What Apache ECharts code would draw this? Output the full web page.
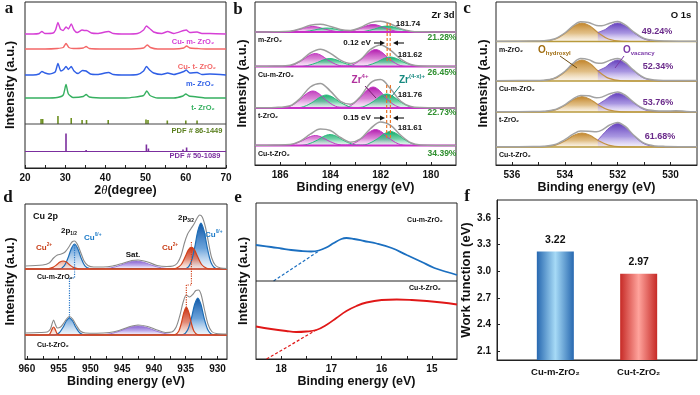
<!DOCTYPE html>
<html><head><meta charset="utf-8">
<script src="https://cdn.jsdelivr.net/npm/echarts@6/dist/echarts.min.js"></script>
<style>html,body{margin:0;padding:0;background:#fff}#c{width:700px;height:395px}</style>
</head><body><div id="c"></div>
<script>
// ===== Panel a: XRD (2θ, intensity a.u. incl. stacking offset) =====
const xrdCuM = [[20,134],[22,134],[23.5,134.5],[24.2,136.5],[25,134.5],[27,135],[27.6,138],[28.2,145.5],[28.8,139],[29.5,137.5],[30.2,141],[30.8,139],[31.5,144],[32.2,138],[33,135.5],[34.2,138],[34.8,137.5],[35.4,137.5],[36.5,135],[38,134.5],[40.8,136.5],[42,134.5],[45,134],[48,134.5],[49.5,138],[50.2,142],[51,139.5],[52,136],[54,134.5],[55.5,136.5],[57,134.5],[59.5,137.5],[60.1,138],[61,135.5],[62.8,136],[64,134.5],[66,134.5],[70,134]];
const xrdCuT = [[20,119],[25,119],[28,119.5],[29.5,120.5],[30.2,124.5],[30.9,120.5],[32,119.5],[34.5,120],[35.2,121.5],[36,119.5],[40,119],[45,119],[49.5,120],[50.4,123],[51.2,120.5],[53,119],[57,119],[59.5,120],[60.2,122],[61,120],[62.8,119.5],[65,119],[70,119]];
const xrdM = [[20,93],[22,93],[23.5,94],[24.2,96.5],[25,95],[26,94],[27.5,96],[28.2,104.5],[28.9,97],[29.6,98.5],[30.2,101.5],[30.8,98.5],[31.5,101.5],[32.2,97],[33.2,94.5],[34.3,97.5],[35.2,97],[36.3,94],[38,93.5],[40.8,95.5],[42,93.5],[45,93],[48,93.5],[49.5,97],[50.2,101.5],[51,98],[52,95],[54,93.5],[55.5,95],[57,93.5],[59.5,96.5],[60.1,98],[61,95],[62.8,95.5],[64,93.5],[66,94],[70,93]];
const xrdT = [[20,70],[25,70],[28,70.5],[29.5,73],[30.2,83.5],[30.8,74],[32,70.5],[34.5,71.5],[35.2,73.5],[36,71],[40,70],[45,70],[49.5,72.5],[50.3,77],[51.1,72.5],[53,70],[57,70],[59.3,72],[60,74],[60.8,72],[62.8,71],[65,70],[70,70]];
const pdfMono = [[24.0,5],[24.4,5],[28.2,8],[31.5,6],[34.2,4],[35.3,4],[40.7,4],[50.1,4.5],[50.6,4],[55.4,3.5],[60.0,3.5],[62.8,3.5]];
const pdfTetra = [[30.2,18],[35.2,1.5],[50.2,7],[50.7,3],[59.3,2],[60.2,4]];
const pdfBase = [44, 16.5];
const ticksA = [20,25,30,35,40,45,50,55,60,65,70];
const labelsA = [20,30,40,50,60,70];

// ===== Panel b: Zr 3d (eV, height above each baseline) =====
const zrBase = [133, 98.5, 57, 19.5];
const zrPink1 = [[187,0],[186,0],[185.6,0.58],[185.2,2.75],[184.95,4.62],[184.7,5.5],[184.45,4.62],[184.2,2.75],[183.8,0.58],[183.5,0.2],[183.2,0.8],[182.8,3.75],[182.55,6.3],[182.3,7.5],[182.05,6.3],[181.8,3.75],[181.4,0.8],[181,0],[179,0]];
const zrGreen1 = [[187,0],[185.44,0],[185.04,0.42],[184.64,2],[184.39,3.36],[184.14,4],[183.89,3.36],[183.64,2],[183.24,0.42],[182.94,0.2],[182.64,0.64],[182.24,3],[181.99,5.04],[181.74,6],[181.49,5.04],[181.24,3],[180.84,0.64],[180.44,0],[179,0]];
const zrPink2 = [[187,0],[185.9,0],[185.5,1.38],[185.1,6.5],[184.85,10.92],[184.6,13],[184.35,10.92],[184.1,6.5],[183.7,1.38],[183.4,0.6],[183.1,1.8],[182.7,8.5],[182.45,14.28],[182.2,17],[181.95,14.28],[181.7,8.5],[181.3,1.8],[180.9,0],[179,0]];
const zrGreen2 = [[187,0],[185.32,0],[184.92,0.85],[184.52,4],[184.27,6.72],[184.02,8],[183.77,6.72],[183.52,4],[183.12,0.85],[182.82,0.35],[182.52,1.0],[182.12,4.75],[181.87,7.98],[181.62,9.5],[181.37,7.98],[181.12,4.75],[180.72,1.0],[180.32,0],[179,0]];
const zrPink3 = [[187,0],[186,0],[185.6,1.8],[185.2,8.5],[184.95,14.28],[184.7,17],[184.45,14.28],[184.2,8.5],[183.8,1.8],[183.5,0.8],[183.2,2.23],[182.8,10.5],[182.55,17.64],[182.3,21],[182.05,17.64],[181.8,10.5],[181.4,2.23],[181,0],[179,0]];
const zrGreen3 = [[187,0],[185.46,0],[185.06,1.38],[184.66,6.5],[184.41,10.92],[184.16,13],[183.91,10.92],[183.66,6.5],[183.26,1.38],[182.96,0.55],[182.66,1.48],[182.26,7],[182.01,11.76],[181.76,14],[181.51,11.76],[181.26,7],[180.86,1.48],[180.46,0],[179,0]];
const zrPink4 = [[187,0],[185.9,0],[185.5,1.06],[185.1,5],[184.85,8.4],[184.6,10],[184.35,8.4],[184.1,5],[183.7,1.06],[183.4,0.5],[183.1,1.7],[182.7,8],[182.45,13.44],[182.2,16],[181.95,13.44],[181.7,8],[181.3,1.7],[180.9,0],[179,0]];
const zrGreen4 = [[187,0],[185.31,0],[184.91,1.17],[184.51,5.5],[184.26,9.24],[184.01,11],[183.76,9.24],[183.51,5.5],[183.11,1.17],[182.81,0.5],[182.51,1.48],[182.11,7],[181.86,11.76],[181.61,14],[181.36,11.76],[181.11,7],[180.71,1.48],[180.31,0],[179,0]];
const zrEnv1 = [[187,0],[186.2,0.2],[185.6,0.8],[185.2,3.2],[184.8,6.8],[184.4,7.8],[184.0,5.6],[183.6,2.5],[183.2,1.6],[182.8,4.5],[182.4,9.4],[182.0,10.8],[181.6,8],[181.2,3.4],[180.8,0.8],[180.4,0.2],[179,0]];
const zrEnv2 = [[187,0.3],[186.2,0.5],[185.6,1.3],[185.2,5.5],[184.8,13.5],[184.4,17.2],[184.0,13.2],[183.6,6.3],[183.2,3],[182.8,7],[182.4,17.2],[182.0,21.6],[181.6,16.2],[181.2,7.3],[180.8,2],[180.4,0.5],[179,0.1]];
const zrEnv3 = [[187,0.3],[186.2,0.6],[185.6,2.3],[185.2,9.7],[184.8,21],[184.4,24.6],[184.0,16.9],[183.6,6.6],[183.2,3.7],[182.8,11.6],[182.4,25.2],[182.0,28.4],[181.6,18.9],[181.2,6.8],[180.8,1.5],[180.4,0.4],[179,0.1]];
const zrEnv4 = [[187,0.3],[186.2,0.5],[185.6,1.1],[185.2,4.3],[184.8,11.3],[184.4,16.5],[184.0,15],[183.6,8],[183.2,3.3],[182.8,6.6],[182.4,17],[182.0,23.6],[181.6,20.1],[181.2,10.2],[180.8,2.7],[180.4,0.6],[179,0.1]];
const zrShift1 = [181.74, 181.62];
const zrShift2 = [181.76, 181.61];
const ticksB = [180,181,182,183,184,185,186];
const labelsB = [180,182,184,186];

// ===== Panel c: O 1s =====
const oBase = [123.5, 84, 53, 18];
const oGold1 = [[536.6,0],[534.85,0.2],[534.35,2.5],[533.95,9],[533.65,15.4],[533.35,18.5],[533.05,15.4],[532.75,9],[532.35,2.5],[531.85,0.2],[531,0],[529,0]];
const oGold2 = [[536.6,0],[534.85,0.23],[534.35,2.84],[533.95,10.2],[533.65,17.5],[533.35,21],[533.05,17.5],[532.75,10.2],[532.35,2.84],[531.85,0.23],[531,0],[529,0]];
const oGold3 = [[536.6,0],[534.85,0.17],[534.35,2.07],[533.95,7.45],[533.65,12.8],[533.35,15.3],[533.05,12.8],[532.75,7.45],[532.35,2.07],[531.85,0.17],[531,0],[529,0]];
const oGold4 = [[536.6,0],[534.85,0.15],[534.35,1.9],[533.95,6.8],[533.65,11.7],[533.35,14],[533.05,11.7],[532.75,6.8],[532.35,1.9],[531.85,0.15],[531,0],[529,0]];
const oVac1 = [[532.75,9],[532.45,12.3],[532.3,15.4],[532,18.5],[531.7,15.4],[531.4,9],[531,2.5],[530.5,0.2],[530,0],[529,0]];
const oVac2 = [[532.75,10.2],[532.45,14],[532.3,17.5],[532,21],[531.7,17.5],[531.4,10.2],[531,2.84],[530.5,0.23],[530,0],[529,0]];
const oVac3 = [[532.75,7.45],[532.45,12.5],[532.3,15.6],[532,18.7],[531.7,15.6],[531.4,9.1],[531,2.5],[530.5,0.2],[530,0],[529,0]];
const oVac4 = [[532.75,6.8],[532.45,15.7],[532.3,19.6],[532,23.5],[531.7,19.6],[531.4,11.4],[531,3.2],[530.5,0.26],[530,0],[529,0]];
const oEnv1 = [[536.6,0.3],[535.2,0.4],[534.8,0.7],[534.4,2.5],[534,8.5],[533.7,15.3],[533.4,19.8],[533.1,19],[532.8,16],[532.6,15.8],[532.3,18.3],[532,20],[531.7,16.3],[531.4,9.7],[531,3],[530.6,1],[530.2,0.5],[529,0.3]];
const oEnv2 = [[536.6,0.3],[535.2,0.5],[534.8,0.8],[534.4,2.8],[534,9.5],[533.7,17.3],[533.4,22.4],[533.1,21.4],[532.8,18],[532.6,17.8],[532.3,20.6],[532,22.5],[531.7,18.3],[531.4,10.8],[531,3.3],[530.6,1],[530.2,0.6],[529,0.4]];
const oEnv3 = [[536.6,0.3],[535.2,0.4],[534.8,0.7],[534.4,2.2],[534,7.2],[533.7,12.8],[533.4,16.6],[533.1,16.2],[532.8,14.3],[532.6,14.9],[532.3,18.2],[532,20],[531.7,16.5],[531.4,9.8],[531,3.2],[530.6,1.2],[530.2,0.9],[529.8,1.2],[529.4,0.6],[529,0.3]];
const oEnv4 = [[536.6,0.3],[535.2,0.4],[534.8,0.7],[534.4,2.3],[534,7.3],[533.7,12.6],[533.4,16],[533.1,15.8],[532.8,15.3],[532.6,16.9],[532.3,22],[532,24.6],[531.7,20.3],[531.4,12],[531,3.8],[530.6,1.1],[530.2,0.6],[529,0.3]];
const ticksC = [530,531,532,533,534,535,536];
const labelsC = [530,532,534,536];

// ===== Panel d: Cu 2p =====
const cuBase = [90, 24];
const cuBlueM = [[960.3,0],[954.9,0],[954.1,3.4],[953.5,11.5],[953.0,20.6],[952.5,25],[952.0,20.6],[951.5,11.5],[950.9,3.4],[950.1,0.3],[935.0,0.5],[934.2,6.2],[933.6,21.1],[933.1,37.9],[932.6,46],[932.1,37.9],[931.6,21.1],[931.0,6.2],[930.2,0.5],[928.5,0]];
const cuRedM = [[960.3,0],[957.5,0],[956.7,0.2],[955.9,1.6],[955.3,4.3],[954.8,6.9],[954.3,8],[953.8,6.9],[953.3,4.3],[952.7,1.6],[951.9,0.2],[951,0],[937.3,0],[936.5,0.6],[935.7,4.5],[935.1,11.9],[934.6,18.9],[934.1,22],[933.6,18.9],[933.1,11.9],[932.5,4.5],[931.7,0.6],[930.9,0],[928.5,0]];
const cuSatM = [[960.3,0],[948.8,0.1],[946.8,1.1],[945.3,3.7],[944.05,6.6],[942.8,8],[941.55,6.6],[940.3,3.7],[938.8,1.1],[936.8,0.1],[928.5,0]];
const cuEnvM = [[960.3,3],[957.5,4],[956.5,6],[955.8,11],[955.2,14],[954.6,15],[954.0,17],[953.4,22],[952.9,27],[952.5,28],[952.0,24],[951.5,16],[951.0,8],[950.4,3.5],[949.5,2],[948,2],[946.5,3],[945,5.5],[943.5,8.5],[942.5,9],[941,7],[939.5,3.5],[938,2.5],[937,3],[936.3,6],[935.7,14],[935.2,26],[934.7,35],[934.2,40],[933.6,46],[933.1,52],[932.8,54],[932.4,52],[931.9,42],[931.4,26],[930.9,11],[930.3,3.5],[929.5,1],[928.5,0.5]];
const cuBlueT = [[960.3,0],[955.7,0],[954.9,2.3],[954.3,7.8],[953.8,14],[953.3,17],[952.8,14],[952.3,7.8],[951.7,2.3],[950.9,0.2],[935.5,0.4],[934.7,5],[934.1,16.9],[933.6,30.5],[933.1,37],[932.6,30.5],[932.1,16.9],[931.5,5],[930.7,0.4],[928.5,0]];
const cuRedT = [[960.3,0],[956.7,0],[956.4,1.1],[956.2,3.3],[956.0,6.4],[955.8,8],[955.6,6.4],[955.4,3.3],[955.2,1.1],[954.9,0],[937.2,0],[936.7,0.3],[936.1,3.8],[935.7,11.5],[935.3,22.4],[934.9,28],[934.5,22.4],[934.1,11.5],[933.7,3.8],[933.1,0.3],[932.5,0],[928.5,0]];
const cuSatT = [[960.3,0],[949,0.1],[946.9,1.2],[945.3,4.1],[943.9,7.4],[942.5,9],[941.1,7.4],[939.7,4.1],[938.1,1.2],[936,0.1],[928.5,0]];
const cuEnvT = [[960.3,2],[958,2.5],[956.8,3],[956.3,6],[956.0,12],[955.8,15],[955.55,11],[955.2,7],[954.7,8],[954.2,12],[953.7,16.5],[953.3,18.5],[952.8,16],[952.2,9.5],[951.6,4],[950.8,2],[949,1.8],[947,2.5],[945.5,4.5],[944,8],[942.5,10],[941,8.5],[939.5,5],[938.2,2.5],[937.2,3],[936.5,8],[935.9,20],[935.4,33],[934.9,40],[934.4,38],[933.9,40.5],[933.4,44.5],[933.0,45],[932.6,41],[932.1,27],[931.5,11],[930.9,3.5],[930.2,1.5],[928.5,1]];
const cuShiftBlue = [[952.5,114],[952.5,81],[953.3,81],[953.3,41]];
const cuShiftRed = [[934.1,117],[934.1,74],[934.9,74],[934.9,52]];
const ticksD = [930,932.5,935,937.5,940,942.5,945,947.5,950,952.5,955,957.5,960];
const labelsD = [930,935,940,945,950,955,960];

// ===== Panel e: valence band edge =====
const vbCuM = [[18.5,114],[18.2,112],[18.0,110.5],[17.8,109],[17.6,108],[17.4,107.5],[17.25,108.5],[17.1,111.5],[16.95,116],[16.8,120],[16.7,121],[16.55,120],[16.35,118],[16.1,115.5],[15.8,111],[15.5,104],[15.2,97],[14.95,91],[14.7,87],[14.5,84]];
const vbCuT = [[18.5,32.5],[18.2,30],[17.9,28],[17.7,27],[17.5,27.5],[17.3,29],[17.1,34],[16.9,41],[16.7,48],[16.5,53],[16.3,56.5],[16.0,59],[15.7,59.5],[15.4,59],[15.1,58],[14.8,56.5],[14.5,54.5]];
const vbTanM = [[18.15,78],[17.25,108]];
const vbTanT = [[18.29,0],[17.3,29]];
const vbDivider = 78;
const ticksE = [15,15.5,16,16.5,17,17.5,18];
const labelsE = [15,16,17,18];

// ===== Panel f: work function =====
const wfCats = ['Cu-m-ZrO\u2082', 'Cu-t-ZrO\u2082'];
const wfVals = [3.22, 2.97];
const ticksF = [2.1, 2.4, 2.7, 3.0, 3.3, 3.6];

// ================= build =================
const FONT = '"Liberation Sans", Arial, sans-serif';
const chart = echarts.init(document.getElementById('c'), null, {renderer:'canvas', width:700, height:395});

const grids = [
  {left:25, top:2, width:201, height:166},
  {left:255, top:2, width:201, height:163},
  {left:496, top:2, width:201, height:163},
  {left:25, top:204, width:202, height:155},
  {left:256, top:203, width:201, height:156},
  {left:497, top:200, width:200, height:160}
].map(g => Object.assign({show:true, borderColor:'#222', borderWidth:1, backgroundColor:'rgba(0,0,0,0)', containLabel:false}, g));

const axNameStyle = {fontSize:12.5, fontWeight:'bold', color:'#111', fontFamily:FONT};
function xAx(gi, min, max, inverse, ticks, labels, name, nameGap, fmt){
  return {type:'value', gridIndex:gi, min, max, inverse,
    axisLine:{show:true, onZero:false, lineStyle:{color:'#222', width:1}},
    axisTick:{show:true, inside:true, length:3, customValues:ticks, lineStyle:{color:'#222'}},
    axisLabel:{show:true, customValues:labels, margin:5, color:'#111', fontSize:10, fontWeight:'bold', fontFamily:FONT, formatter:fmt},
    splitLine:{show:false}, name, nameLocation:'middle', nameGap, nameTextStyle:axNameStyle};
}
function yAx(gi, max, gap){
  return {type:'value', gridIndex:gi, min:0, max,
    axisLine:{show:false}, axisTick:{show:false}, axisLabel:{show:false}, splitLine:{show:false},
    name:'Intensity (a.u.)', nameLocation:'middle', nameRotate:90, nameGap:gap, nameTextStyle:{fontSize:13, fontWeight:'bold', color:'#111', fontFamily:FONT}};
}
const xAxes = [
  Object.assign(xAx(0, 20, 70, false, ticksA, labelsA, '{n|2}{i|\u03b8}{n|(degree)}', 14, v => String(v)),
    {nameTextStyle:{rich:{n:{fontSize:12.5, fontWeight:'bold', color:'#111', fontFamily:FONT}, i:{fontSize:12.5, fontStyle:'italic', color:'#111', fontFamily:'"Liberation Serif", serif'}}}}),
  xAx(1, 179, 187, true, ticksB, labelsB, 'Binding energy (eV)', 15, v => String(v)),
  xAx(2, 529, 536.6, true, ticksC, labelsC, 'Binding energy (eV)', 15, v => String(v)),
  xAx(3, 928.5, 960.3, true, ticksD, labelsD, 'Binding energy (eV)', 16, v => String(v)),
  xAx(4, 14.5, 18.5, true, ticksE, labelsE, 'Binding energy (eV)', 16, v => String(v)),
  {type:'value', gridIndex:5, min:0.3, max:2.7,
    axisLine:{show:true, onZero:false, lineStyle:{color:'#222'}}, axisTick:{show:false}, splitLine:{show:false},
    axisLabel:{customValues:[1,2], margin:7, formatter: v => wfCats[Math.round(v)-1], color:'#111', fontSize:9.5, fontWeight:'bold', fontFamily:FONT}}
];
const yAxes = [
  yAx(0,166,8), yAx(1,163,6), yAx(2,163,6), yAx(3,155,8), yAx(4,156,6),
  {type:'value', gridIndex:5, min:2.0, max:3.8,
    axisLine:{show:true, lineStyle:{color:'#222'}},
    axisTick:{show:true, inside:true, length:3, customValues:ticksF, lineStyle:{color:'#222'}},
    axisLabel:{customValues:ticksF, margin:6, formatter: v => v.toFixed(1), color:'#111', fontSize:10, fontWeight:'bold', fontFamily:FONT},
    splitLine:{show:false}, name:'Work function (eV)', nameLocation:'middle', nameRotate:90, nameGap:23,
    nameTextStyle:{fontSize:13, fontWeight:'bold', color:'#111', fontFamily:FONT}}
];

const series = [];
function shift(arr, b){ return arr.map(p => [p[0], p[1] + b]); }
function grad(f){ return new echarts.graphic.LinearGradient(0,0,0,1,[{offset:0,color:f[0]},{offset:0.55,color:f[1]},{offset:1,color:f[2]}]); }
function curve(gi, data, color, width, fill, base, smooth, type){
  const s = {type:'line', xAxisIndex:gi, yAxisIndex:gi, data, symbol:'none', showSymbol:false, silent:true,
    smooth: smooth === undefined ? 0.35 : smooth, lineStyle:{color, width, type: type||'solid'}, animation:false};
  if (fill) s.areaStyle = {origin: base, color: grad(fill), opacity:1};
  series.push(s);
}
function hline(gi, x0, x1, v, color, width){ curve(gi, [[x0,v],[x1,v]], color, width, null, 0, false); }

const FILL = {
  pink:['#b21aad','rgba(205,90,200,0.75)','rgba(245,215,245,0.4)'],
  green:['#0fa866','rgba(70,195,140,0.75)','rgba(215,245,230,0.4)'],
  gold:['#c2842a','rgba(215,170,95,0.75)','rgba(245,230,205,0.4)'],
  vac:['#6440bd','rgba(140,115,215,0.75)','rgba(225,215,245,0.4)'],
  blue:['#0f55a5','rgba(70,140,210,0.8)','rgba(215,230,245,0.4)'],
  red:['#c92c0e','rgba(220,110,85,0.8)','rgba(245,220,210,0.4)'],
  sat:['#8660cf','rgba(170,145,228,0.75)','rgba(235,228,248,0.4)']
};

// panel a
curve(0, xrdCuM, '#d640d6', 1.4, null, 0, 0.2);
curve(0, xrdCuT, '#f46868', 1.4, null, 0, 0.2);
curve(0, xrdM, '#2f5fe6', 1.4, null, 0, 0.2);
curve(0, xrdT, '#36b060', 1.4, null, 0, 0.2);
function sticks(gi, list, base, color){
  series.push({type:'custom', xAxisIndex:gi, yAxisIndex:gi, silent:true, animation:false,
    data: list.map(s => [s[0], base, s[1]]), encode:{x:0, y:1},
    renderItem: (params, api) => {
      const p1 = api.coord([api.value(0), api.value(1)]);
      const p2 = api.coord([api.value(0), api.value(1) + api.value(2)]);
      return {type:'line', shape:{x1:p1[0], y1:p1[1], x2:p2[0], y2:p2[1]}, style:{stroke:color, lineWidth:1.6}};
    }});
}
sticks(0, pdfMono, pdfBase[0], '#6d9020');
sticks(0, pdfTetra, pdfBase[1], '#7b2e9e');
hline(0, 20, 70, pdfBase[0], '#444', 1);
hline(0, 20, 70, pdfBase[1], '#7b2e9e', 1);

// panel b
const zrPink = [zrPink1, zrPink2, zrPink3, zrPink4];
const zrGreen = [zrGreen1, zrGreen2, zrGreen3, zrGreen4];
const zrEnv = [zrEnv1, zrEnv2, zrEnv3, zrEnv4];
for (let i = 0; i < 4; i++) {
  const b = zrBase[i];
  curve(1, shift(zrPink[i], b), '#c437c4', 1, FILL.pink, b);
  curve(1, shift(zrGreen[i], b), '#2bbb7e', 1, FILL.green, b);
  hline(1, 179, 187, b, '#c82fc8', 1.8);
  curve(1, shift(zrEnv[i], b), '#9d9d9d', 1.5, null, 0);
}
[[zrShift1, 142, 102], [zrShift2, 80, 25]].forEach(([xs, v1, v2]) => {
  xs.forEach(x => curve(1, [[x, v1], [x, v2]], '#e8762a', 1.2, null, 0, false, [3, 2]));
});

// panel c
const oGold = [oGold1, oGold2, oGold3, oGold4];
const oVac = [oVac1, oVac2, oVac3, oVac4];
const oEnv = [oEnv1, oEnv2, oEnv3, oEnv4];
for (let i = 0; i < 4; i++) {
  const b = oBase[i];
  curve(2, shift(oGold[i], b), '#c39142', 1.2, FILL.gold, b);
  curve(2, shift(oVac[i], b), '#7e5cc4', 1, FILL.vac, b);
  hline(2, 529, 536.6, b, '#b89a3c', 1.6);
  curve(2, shift(oEnv[i], b), '#a3a3a3', 1.5, null, 0);
}

// panel d
[[cuBlueM, cuRedM, cuSatM, cuEnvM], [cuBlueT, cuRedT, cuSatT, cuEnvT]].forEach((grp, i) => {
  const b = cuBase[i];
  curve(3, shift(grp[0], b), '#1d6db6', 1.2, FILL.blue, b, 0.3);
  curve(3, shift(grp[2], b), '#9a78d6', 1, FILL.sat, b, 0.3);
  curve(3, shift(grp[1], b), '#d2431c', 1.2, FILL.red, b, 0.3);
  hline(3, 928.5, 960.3, b, '#d2461e', 1.6);
  curve(3, shift(grp[3], b), '#8a8a8a', 1.1, null, 0, 0.3);
});
curve(3, cuShiftBlue, '#2a78c8', 1.2, null, 0, false, 'dotted');
curve(3, cuShiftRed, '#d2431c', 1.2, null, 0, false, 'dotted');

// panel e
curve(4, vbCuM, '#1b6fc0', 1.8, null, 0, 0.4);
curve(4, vbCuT, '#e01818', 1.8, null, 0, 0.4);
curve(4, vbTanM, '#1b6fc0', 1.2, null, 0, false, [3, 2]);
curve(4, vbTanT, '#e01818', 1.2, null, 0, false, [3, 2]);
hline(4, 14.5, 18.5, vbDivider, '#222', 1);

// panel f
const barGrad = [
  new echarts.graphic.LinearGradient(0,0,1,0,[{offset:0,color:'#2768b0'},{offset:0.5,color:'#a6daf6'},{offset:1,color:'#2768b0'}]),
  new echarts.graphic.LinearGradient(0,0,1,0,[{offset:0,color:'#c62a26'},{offset:0.5,color:'#ffa39c'},{offset:1,color:'#c62a26'}])
];
series.push({type:'bar', xAxisIndex:5, yAxisIndex:5, barWidth:37, animation:false, silent:true,
  data: wfVals.map((v, i) => ({value:[i + 1, v], itemStyle:{color:barGrad[i]}})),
  label:{show:true, position:'top', distance:6, formatter: p => p.value[1].toFixed(2), fontWeight:'bold', fontSize:10.5, color:'#111', fontFamily:FONT}});

// ---------- annotations ----------
const G = [];
function T(x, y, text, o){
  o = o || {};
  G.push({type:'text', x, y, silent:true, z:100, style:{text, fill:o.c||'#111',
    font:(o.w||'bold') + ' ' + (o.s||8) + 'px ' + (o.f||FONT),
    align:o.a||'center', textAlign:o.a||'center', verticalAlign:'middle', textVerticalAlign:'middle', rich:o.rich}});
}
function L(x1, y1, x2, y2, c, w){ G.push({type:'line', silent:true, z:100, shape:{x1, y1, x2, y2}, style:{stroke:c, lineWidth:w||1}}); }
function arrow(x1, y, x2){
  const d = Math.sign(x2 - x1);
  L(x1, y, x2 - d*3, y, '#111', 1.1);
  G.push({type:'polygon', silent:true, z:100, shape:{points:[[x2, y], [x2 - d*5, y - 2.6], [x2 - d*5, y + 2.6]]}, style:{fill:'#111'}});
}
function supRich(size, color){
  return {n:{fontSize:size, fill:color, fontFamily:FONT, fontWeight:'bold', lineHeight:size + 3},
          p:{fontSize:size*0.6, fill:color, fontFamily:FONT, fontWeight:'bold', verticalAlign:'top'},
          b:{fontSize:size*0.6, fill:color, fontFamily:FONT, fontWeight:'bold', verticalAlign:'bottom'}};
}
const SERIF = '"Liberation Serif", "DejaVu Serif", serif';
T(9, 9, 'a', {s:17, f:SERIF}); T(238, 10, 'b', {s:17, f:SERIF}); T(467, 9, 'c', {s:17, f:SERIF});
T(8, 198, 'd', {s:17, f:SERIF}); T(238, 198, 'e', {s:17, f:SERIF}); T(467, 197, 'f', {s:17, f:SERIF});

// a
T(193, 42, 'Cu- m- ZrO\u2082', {c:'#d640d6', s:7.5});
T(197, 67, 'Cu- t- ZrO\u2082', {c:'#f46868', s:7.5});
T(200, 84, 'm- ZrO\u2082', {c:'#2f5fe6', s:7.5});
T(203, 108, 't- ZrO\u2082', {c:'#36b060', s:7.5});
T(197, 131, 'PDF # 86-1449', {c:'#5a7f1e', s:7.5});
T(195, 156, 'PDF # 50-1089', {c:'#7b2e9e', s:7.5});

// b
T(443, 15, 'Zr 3d', {s:9.5});
T(408, 24, '181.74', {s:8});
T(442, 38, '21.28%', {c:'#2e8f2e', s:8.5});
T(258, 40, 'm-ZrO\u2082', {s:7, a:'left'});
T(357, 43, '0.12 eV', {s:8}); arrow(374, 43, 385); arrow(404, 43, 393);
T(410, 55, '181.62', {s:8});
T(258, 75, 'Cu-m-ZrO\u2082', {s:7, a:'left'});
T(442, 73, '26.45%', {c:'#2e8f2e', s:8.5});
T(360, 80, '{n|Zr}{p|4+}', {rich:supRich(10, '#b0309c')});
T(412, 80, '{n|Zr}{p|(4-x)+}', {rich:supRich(10, '#178a80')});
L(365, 86, 376, 98, '#7a2070', 1); L(400, 86, 392, 96, '#178a80', 1);
T(410, 95, '181.76', {s:8});
T(258, 116, 't-ZrO\u2082', {s:7, a:'left'});
T(442, 113, '22.73%', {c:'#2e8f2e', s:8.5});
T(357, 118, '0.15 eV', {s:8}); arrow(374, 118, 385); arrow(404, 118, 393);
T(410, 128, '181.61', {s:8});
T(258, 154, 'Cu-t-ZrO\u2082', {s:7, a:'left'});
T(442, 154, '34.39%', {c:'#2e8f2e', s:8.5});

// c
T(681, 15, 'O 1s', {s:9.5});
T(657, 32, '49.24%', {c:'#6a2a8a', s:9});
T(499, 50, 'm-ZrO\u2082', {s:7, a:'left'});
T(538, 50, '{n|O}{b|hydroxyl}', {a:'left', rich:supRich(10, '#a06d10')});
T(623, 50, '{n|O}{b|vacancy}', {a:'left', rich:supRich(10, '#7b3aa8')});
L(560, 56, 577, 68, '#6b4a10', 1); L(624, 56, 615, 68, '#7b3aa8', 1);
T(658, 67, '52.34%', {c:'#6a2a8a', s:9});
T(499, 89, 'Cu-m-ZrO\u2082', {s:7, a:'left'});
T(658, 103, '53.76%', {c:'#6a2a8a', s:9});
T(499, 120, 't-ZrO\u2082', {s:7, a:'left'});
T(660, 137, '61.68%', {c:'#6a2a8a', s:9});
T(499, 155, 'Cu-t-ZrO\u2082', {s:7, a:'left'});

// d
T(33, 217, 'Cu 2p', {s:9, a:'left'});
T(69, 231, '{n|2p}{b|1/2}', {rich:supRich(8, '#111')});
T(84, 238, '{n|Cu}{p|0/+}', {a:'left', rich:supRich(8, '#1d7bc8')});
T(36, 248, '{n|Cu}{p|2+}', {a:'left', rich:supRich(8, '#c8401a')});
T(133, 255, 'Sat.', {s:8});
T(162, 248, '{n|Cu}{p|2+}', {a:'left', rich:supRich(8, '#c8401a')});
T(186, 218, '{n|2p}{b|3/2}', {rich:supRich(8, '#111')});
T(205, 235, '{n|Cu}{p|0/+}', {a:'left', rich:supRich(8, '#1d7bc8')});
T(37, 277, 'Cu-m-ZrO\u2082', {s:7, a:'left'});
T(37, 345, 'Cu-t-ZrO\u2082', {s:7, a:'left'});

// e
T(425, 220, 'Cu-m-ZrO\u2082', {s:7});
T(425, 288, 'Cu-t-ZrO\u2082', {s:7});

chart.setOption({
  animation:false, backgroundColor:'#fff',
  grid:grids, xAxis:xAxes, yAxis:yAxes, series, graphic:{elements:G}
});
</script></body></html>
